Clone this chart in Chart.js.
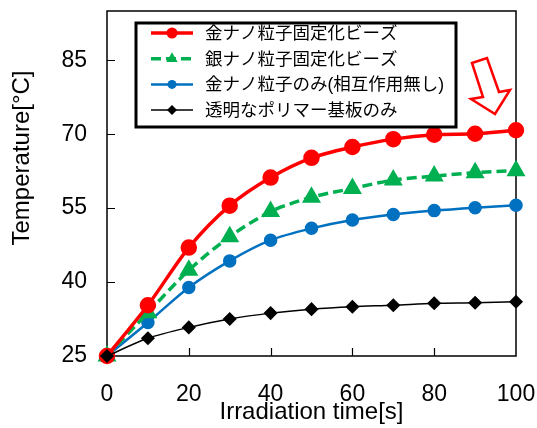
<!DOCTYPE html>
<html>
<head>
<meta charset="utf-8">
<script src="https://cdn.jsdelivr.net/npm/chart.js@4.4.0/dist/chart.umd.min.js"></script>
<style>
  html, body { margin: 0; padding: 0; background: #fff; }
  #wrap { width: 537px; height: 428px; }
</style>
</head>
<body>
<div id="wrap"><canvas id="tempChart" width="537" height="428"></canvas></div>
<script>
// ===== データ =====
const timeSec = [0, 10, 20, 30, 40, 50, 60, 70, 80, 90, 100];
const goldBeads   = [25, 35.3, 47.0, 55.5, 61.2, 65.2, 67.4, 69.0, 69.9, 70.1, 70.8];
const silverBeads = [25, 33.8, 42.4, 49.2, 54.3, 57.2, 59.0, 60.7, 61.5, 62.2, 62.6];
const goldOnly    = [25, 31.8, 38.9, 44.3, 48.5, 50.9, 52.6, 53.7, 54.5, 55.1, 55.6];
const polymerOnly = [25, 28.6, 30.8, 32.5, 33.7, 34.5, 35.0, 35.3, 35.7, 35.8, 36.0];
const seriesLabels = [
  '金ナノ粒子固定化ビーズ',
  '銀ナノ粒子固定化ビーズ',
  '金ナノ粒子のみ(相互作用無し)',
  '透明なポリマー基板のみ'
];
const xTicks = [0, 20, 40, 60, 80, 100];
const yTicks = [25, 40, 55, 70, 85];
const xTitle = 'Irradiation time[s]';
const yTitle = 'Temperature[°C]';

const LATIN = '"Liberation Sans", Arial, sans-serif';
const CJK = '"Liberation Sans", "Noto Sans CJK JP", sans-serif';

function toPoints(values) {
  return timeSec.map((t, i) => ({ x: t, y: values[i] }));
}

// 軸ラベルのはみ出し余白を無効化（プロット領域を固定するため）
function noPadding(s) {
  s.paddingLeft = 0;
  s.paddingRight = 0;
  s.paddingTop = 0;
  s.paddingBottom = 0;
}

// ===== 枠線と内向き目盛り =====
const framePlugin = {
  id: 'frame',
  beforeDatasetsDraw(chart) {
    const { ctx, chartArea: a, scales } = chart;
    ctx.save();
    ctx.strokeStyle = '#000';
    ctx.lineWidth = 1.5;
    ctx.strokeRect(a.left, a.top, a.right - a.left, a.bottom - a.top);
    ctx.lineWidth = 1.2;
    ctx.beginPath();
    xTicks.forEach(v => {
      if (v === 0 || v === 100) return;
      const px = Math.round(scales.x.getPixelForValue(v)) + 0.5;
      ctx.moveTo(px, a.bottom);
      ctx.lineTo(px, a.bottom - 8);
    });
    yTicks.forEach(v => {
      if (v === 25) return;
      const py = Math.round(scales.y.getPixelForValue(v)) + 0.5;
      ctx.moveTo(a.left, py);
      ctx.lineTo(a.left + 8, py);
    });
    ctx.stroke();
    ctx.restore();
  }
};

// ===== 縦軸タイトル・凡例・矢印 =====
const overlayPlugin = {
  id: 'overlay',
  afterDraw(chart) {
    const { ctx } = chart;
    ctx.save();

    // 縦軸タイトル
    ctx.translate(22, 158);
    ctx.rotate(-Math.PI / 2);
    ctx.fillStyle = '#000';
    ctx.font = '24px ' + LATIN;
    ctx.textAlign = 'center';
    ctx.textBaseline = 'middle';
    ctx.fillText(yTitle, 0, 0);
    ctx.setTransform(1, 0, 0, 1, 0, 0);

    // 凡例（seriesLabels の順に並べる）
    ctx.fillStyle = '#fff';
    ctx.fillRect(136, 23, 320, 104);
    ctx.strokeStyle = '#000';
    ctx.lineWidth = 3;
    ctx.strokeRect(136, 23, 320, 104);

    seriesLabels.forEach((label, i) => {
      const ds = chart.data.datasets.find(d => d.label === label);
      const y = 33 + i * 25.7;
      ctx.save();
      ctx.strokeStyle = ds.borderColor;
      ctx.lineWidth = ds.borderWidth;
      ctx.setLineDash(ds.borderDash || []);
      ctx.beginPath();
      ctx.moveTo(151, y);
      ctx.lineTo(193, y);
      ctx.stroke();
      ctx.setLineDash([]);
      ctx.fillStyle = ds.pointBackgroundColor;
      ctx.strokeStyle = ds.pointBorderColor;
      Chart.helpers.drawPoint(ctx, {
        pointStyle: ds.pointStyle,
        radius: ds.pointRadius - 1,
        rotation: 0,
        borderWidth: 0
      }, 172, y);
      ctx.restore();

      ctx.fillStyle = '#000';
      ctx.font = '17.5px ' + CJK;
      ctx.textAlign = 'left';
      ctx.textBaseline = 'middle';
      ctx.fillText(label, 205, y + 1);
    });

    // 矢印
    ctx.beginPath();
    ctx.moveTo(472, 63);
    ctx.lineTo(487, 58);
    ctx.lineTo(499, 92);
    ctx.lineTo(510, 90);
    ctx.lineTo(495, 114);
    ctx.lineTo(471, 99);
    ctx.lineTo(483, 97);
    ctx.closePath();
    ctx.fillStyle = '#fff';
    ctx.fill();
    ctx.strokeStyle = '#ff0000';
    ctx.lineWidth = 2.5;
    ctx.lineJoin = 'miter';
    ctx.stroke();

    ctx.restore();
  }
};

const tickFont = { family: LATIN, size: 23 };

new Chart(document.getElementById('tempChart'), {
  type: 'line',
  data: {
    // 先頭のデータセットが最前面に描かれるため、黒を先頭に置く
    datasets: [
      {
        label: seriesLabels[3],
        data: toPoints(polymerOnly),
        borderColor: '#000000',
        borderWidth: 1.5,
        pointStyle: 'rectRot',
        pointRadius: 6,
        pointBackgroundColor: '#000000',
        pointBorderColor: '#000000'
      },
      {
        label: seriesLabels[0],
        data: toPoints(goldBeads),
        borderColor: '#ff0000',
        borderWidth: 3.5,
        pointStyle: 'circle',
        pointRadius: 6.5,
        pointBackgroundColor: '#ff0000',
        pointBorderColor: '#ff0000'
      },
      {
        label: seriesLabels[1],
        data: toPoints(silverBeads),
        borderColor: '#00b050',
        borderWidth: 3.5,
        borderDash: [10, 5],
        pointStyle: 'triangle',
        pointRadius: 7.5,
        pointBackgroundColor: '#00b050',
        pointBorderColor: '#00b050'
      },
      {
        label: seriesLabels[2],
        data: toPoints(goldOnly),
        borderColor: '#0070c0',
        borderWidth: 2.5,
        pointStyle: 'circle',
        pointRadius: 5.5,
        pointBackgroundColor: '#0070c0',
        pointBorderColor: '#0070c0'
      }
    ]
  },
  options: {
    responsive: false,
    animation: false,
    devicePixelRatio: 1,
    clip: false,
    layout: { padding: { left: 0, right: 21, top: 10, bottom: 0 } },
    elements: {
      line: { tension: 0.3, fill: false },
      point: { borderWidth: 0, hoverRadius: 6 }
    },
    plugins: {
      legend: { display: false },
      tooltip: { enabled: false }
    },
    scales: {
      x: {
        type: 'linear',
        min: 0,
        max: 100,
        afterBuildTicks: s => { s.ticks = xTicks.map(v => ({ value: v })); },
        afterFit: s => { s.height = 72; noPadding(s); },
        grid: { display: false, drawTicks: false },
        border: { display: false },
        ticks: { font: tickFont, color: '#000', padding: 25, maxRotation: 0, autoSkip: false },
        title: {
          display: true,
          text: xTitle,
          color: '#000',
          font: { family: LATIN, size: 24 },
          padding: { top: 0, bottom: 1 }
        }
      },
      y: {
        min: 25,
        max: 95,
        afterBuildTicks: s => { s.ticks = yTicks.map(v => ({ value: v })); },
        afterFit: s => { s.width = 107; noPadding(s); },
        grid: { display: false, drawTicks: false },
        border: { display: false },
        ticks: { font: tickFont, color: '#000', padding: 20, autoSkip: false }
      }
    }
  },
  plugins: [framePlugin, overlayPlugin]
});
</script>
</body>
</html>
